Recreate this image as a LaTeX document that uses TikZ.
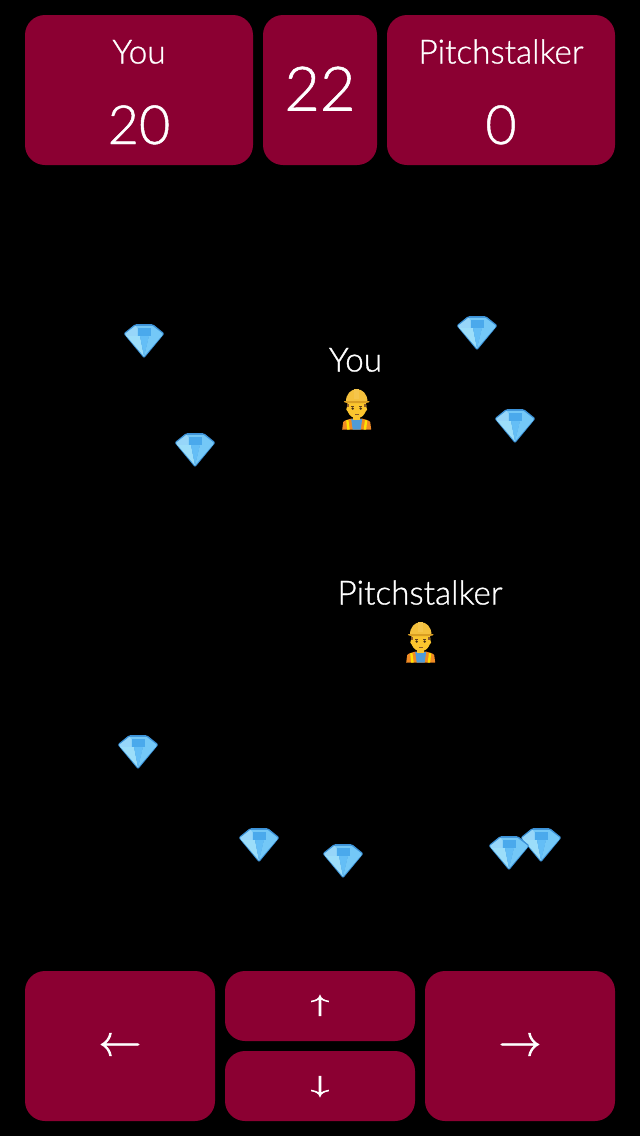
\documentclass[tikz,border=0pt]{standalone}
\usepackage{fontspec}
\setmainfont[FakeBold=0.9]{Lato Light}
\newfontfamily\arrowfont[FakeBold=1.8]{Latin Modern Roman}
\newfontfamily\varrowfont[FakeBold=3]{Latin Modern Roman}
\definecolor{panel}{HTML}{8B0032}
\definecolor{gemedge}{HTML}{3C92D8}
\definecolor{gemtable}{HTML}{4AA9EC}
\definecolor{gemup}{HTML}{74C8F7}
\definecolor{gemlight}{HTML}{9CDEFA}
\definecolor{gemmid}{HTML}{64BEF6}
\definecolor{skin}{HTML}{FBC52E}
\definecolor{hat}{HTML}{F4C03C}
\definecolor{brim}{HTML}{D99E22}
\definecolor{vest}{HTML}{F08A24}
\definecolor{shirt}{HTML}{4F9BD8}
\definecolor{hair}{HTML}{8A5A2B}
\tikzset{
  panelbox/.style={fill=panel,rounded corners=20*0.75pt,inner sep=0pt,outer sep=0pt,draw=none},
  lab/.style={text=white,anchor=base,inner sep=0pt,font=\fontsize{#1}{#1}\selectfont},
  arr/.style={text=white,anchor=center,inner sep=0pt,font=\arrowfont\fontsize{#1}{#1}\selectfont},
  varr/.style={text=white,anchor=center,inner sep=0pt,font=\varrowfont\fontsize{30}{30}\selectfont,transform shape,yscale=0.58},
  gem/.pic={
    \fill[gemedge,rounded corners=1pt] (-20.5,-7.5) -- (-9,-16.8) -- (9,-16.8) -- (20.5,-7.5) -- (0,17.3) -- cycle;
    \fill[gemup] (-18.8,-7.2) -- (-8.5,-15.2) -- (8.5,-15.2) -- (18.8,-7.2) -- (17.5,-4.7) -- (-17.5,-4.7) -- cycle;
    \fill[gemup!75!white] (-18.8,-7.2) -- (-8.5,-15.2) -- (-6.5,-12.7) -- (-6.5,-4.7) -- (-17.5,-4.7) -- cycle;
    \fill[gemtable] (-6.5,-12.7) -- (6.5,-12.7) -- (6.5,-4.7) -- (-6.5,-4.7) -- cycle;
    \fill[gemlight] (-17.5,-4.9) -- (-4,-4.9) -- (0,15.5) -- cycle;
    \fill[gemmid] (-4,-4.9) -- (5,-4.9) -- (0,15.5) -- cycle;
    \fill[gemup] (5,-4.9) -- (17.5,-4.9) -- (0,15.5) -- cycle;
  },
  worker/.pic={
    % body
    \fill[vest] (-14.5,20.5) -- (-13.5,13) .. controls (-12,11) and (-8,10.5) .. (-5,9.5) -- (5,9.5) .. controls (8,10.5) and (12,11) .. (13.5,13) -- (14.5,20.5) -- cycle;
    \fill[shirt] (-5.5,10) -- (5.5,10) -- (4,20.5) -- (-4,20.5) -- cycle;
    \fill[skin] (-3.5,6) rectangle (3.5,10.5);
    \fill[yellow!85!orange] (-10.5,11.5) -- (-8.3,10.8) -- (-7,20.5) -- (-9.5,20.5) -- cycle;
    \fill[yellow!85!orange] (10.5,11.5) -- (8.3,10.8) -- (7,20.5) -- (9.5,20.5) -- cycle;
    % head
    \fill[skin] (-9.8,-1.5) .. controls (-10.8,-1) and (-10.8,2) .. (-9,2.5) .. controls (-7.5,6.5) and (-4,9.3) .. (0,9.3) .. controls (4,9.3) and (7.5,6.5) .. (9,2.5) .. controls (10.8,2) and (10.8,-1) .. (9.8,-1.5) -- (9.3,-6) -- (-9.3,-6) -- cycle;
    \fill[hair] (-9.6,-5.5) rectangle (-7.6,-2);
    \fill[hair] (7.6,-5.5) rectangle (9.6,-2);
    \fill[hair!70!black] (-5.5,-3) rectangle (-2.5,-2.4);
    \fill[hair!70!black] (2.5,-3) rectangle (5.5,-2.4);
    \fill[hair!50!black] (-4,-0.5) circle[radius=1.3];
    \fill[hair!50!black] (4,-0.5) circle[radius=1.3];
    \fill[hair] (-2,5) rectangle (2,5.7);
    % helmet
    \fill[hat] (-10.8,-7) .. controls (-10.8,-15) and (-6,-19.8) .. (0,-19.8) .. controls (6,-19.8) and (10.8,-15) .. (10.8,-7) -- cycle;
    \fill[brim] (-12.8,-7.8) -- (12.8,-7.8) .. controls (12.8,-5.5) and (8,-6) .. (0,-6) .. controls (-8,-6) and (-12.8,-5.5) .. (-12.8,-7.8) -- cycle;
    \fill[hat!92!white] (-2.5,-19.8) rectangle (2.5,-10);
  }
}
\begin{document}
\begin{tikzpicture}[x=0.75pt,y=-0.75pt]
\useasboundingbox (0,0) rectangle (640,1136);
\fill[black] (0,0) rectangle (640,1136);
% panels
\node[panelbox,minimum width=228*0.75pt,minimum height=150*0.75pt] (youpanel) at (139,90) {};
\node[panelbox,minimum width=114*0.75pt,minimum height=150*0.75pt] (timepanel) at (320,90) {};
\node[panelbox,minimum width=228*0.75pt,minimum height=150*0.75pt] (otherpanel) at (501,90) {};
\node[lab=25] (youname) at (139,63.5) {You};
\node[lab=40.5] (youscore) at (139,144) {20};
\node[lab=46] (timeval) at (320,110.5) {22};
\node[lab=25] (othername) at (501,63.5) {Pitchstalker};
\node[lab=40.5] (otherscore) at (501,144) {0};
% buttons
\node[panelbox,minimum width=190*0.75pt,minimum height=150*0.75pt] (leftbtn) at (120,1046) {};
\node[panelbox,minimum width=190*0.75pt,minimum height=70*0.75pt] (upbtn) at (320,1006) {};
\node[panelbox,minimum width=190*0.75pt,minimum height=70*0.75pt] (downbtn) at (320,1086) {};
\node[panelbox,minimum width=190*0.75pt,minimum height=150*0.75pt] (rightbtn) at (520,1046) {};
\node[arr=34] (leftarr) at (120,1044.5) {←};
\node[arr=34] (rightarr) at (520,1044.5) {→};
\node[varr] (uparr) at (upbtn.center) {↑};
\node[varr] (downarr) at (downbtn.center) {↓};
% gems
\pic at (144,341) {gem};
\pic at (477,333) {gem};
\pic at (515,426) {gem};
\pic at (195,450) {gem};
\pic at (138,752) {gem};
\pic at (259,845) {gem};
\pic at (343,861) {gem};
\pic at (541,845) {gem};
\pic at (509,853) {gem};
% players
\node[lab=25] (youlabel) at (355.5,371.5) {You};
\pic at (356.7,409) {worker};
\node[lab=25] (otherlabel) at (420,604.5) {Pitchstalker};
\pic at (420.7,642) {worker};
\end{tikzpicture}
\end{document}
